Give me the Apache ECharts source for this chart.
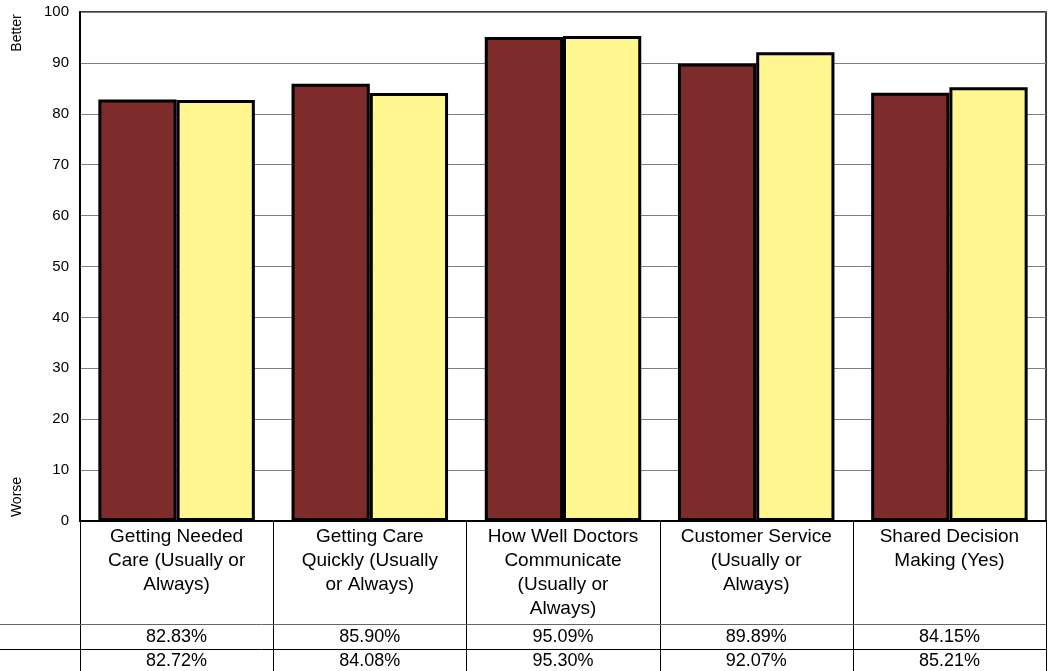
<!DOCTYPE html>
<html><head><meta charset="utf-8">
<script src="https://cdn.jsdelivr.net/npm/echarts@6/dist/echarts.min.js"></script>
<style>html,body{margin:0;padding:0;background:#fff}#c{width:1048px;height:671px}</style>
</head><body><div id="c"></div>
<script>
var categories = ["Getting Needed\nCare (Usually or\nAlways)", "Getting Care\nQuickly (Usually\nor Always)", "How Well Doctors\nCommunicate\n(Usually or\nAlways)", "Customer Service\n(Usually or\nAlways)", "Shared Decision\nMaking (Yes)"];
var series1 = [82.83, 85.90, 95.09, 89.89, 84.15];
var series2 = [82.72, 84.08, 95.30, 92.07, 85.21];
var yTicks = [0, 10, 20, 30, 40, 50, 60, 70, 80, 90, 100];

var FONT = "Liberation Sans, Arial, sans-serif";
var L = 80, R = 2, T = 12, B = 150, W = 1048, H = 671;
var plotBottom = H - B;
var cw = (W - L - R) / categories.length;

var graphics = [];
for (var i = 0; i <= categories.length; i++) {
  var x = Math.round(L + i * cw) + 0.5;
  graphics.push({type:'line', shape:{x1:x, y1:plotBottom, x2:x, y2:H}, style:{stroke:'#000', lineWidth:1}, silent:true});
}
graphics.push({type:'line', shape:{x1:0, y1:624.5, x2:W-R, y2:624.5}, style:{stroke:'#666', lineWidth:1}, silent:true});
graphics.push({type:'line', shape:{x1:0, y1:649.5, x2:W-R, y2:649.5}, style:{stroke:'#000', lineWidth:1}, silent:true});
graphics.push({type:'text', x:17, y:33, rotation:Math.PI/2, style:{text:'Better', font:'14px '+FONT, fill:'#000', align:'center', verticalAlign:'middle'}});
graphics.push({type:'text', x:17, y:497, rotation:Math.PI/2, style:{text:'Worse', font:'14px '+FONT, fill:'#000', align:'center', verticalAlign:'middle'}});

function valueAxis(data, offset) {
  return {type:'category', data:data, position:'bottom', offset:offset,
    axisLine:{show:false}, axisTick:{show:false},
    axisLabel:{interval:0, margin:0, fontFamily:FONT, fontSize:18, lineHeight:20, color:'#000'}};
}

var chart = echarts.init(document.getElementById('c'));
chart.setOption({
  animation:false,
  grid:{left:L, right:R, top:T, bottom:B, show:true, borderColor:'#000', borderWidth:1.5, backgroundColor:'transparent'},
  xAxis:[
    {type:'category', data:categories, position:'bottom',
      axisLine:{show:true, lineStyle:{color:'#000', width:2}}, axisTick:{show:false},
      axisLabel:{interval:0, margin:4, fontFamily:FONT, fontSize:19, lineHeight:24, color:'#000'}},
    valueAxis(series1.map(function(v){return v.toFixed(2)+'%';}), 106),
    valueAxis(series2.map(function(v){return v.toFixed(2)+'%';}), 130)
  ],
  yAxis:{type:'value', min:yTicks[0], max:yTicks[yTicks.length-1], interval:10,
    axisLine:{show:true, lineStyle:{color:'#000', width:2}}, axisTick:{show:false},
    axisLabel:{fontFamily:FONT, fontSize:15, color:'#000', margin:11},
    splitLine:{lineStyle:{color:'#808080', width:1}}},
  series:[
    {type:'bar', data:series1, xAxisIndex:0, barWidth:'40.5%', barGap:'0%',
      itemStyle:{color:'#7D2B2B', borderColor:'#000', borderWidth:3}},
    {type:'bar', data:series2, xAxisIndex:0, barWidth:'40.5%', barGap:'0%',
      itemStyle:{color:'#FFF68F', borderColor:'#000', borderWidth:3}}
  ],
  graphic:graphics
});
</script></body></html>
